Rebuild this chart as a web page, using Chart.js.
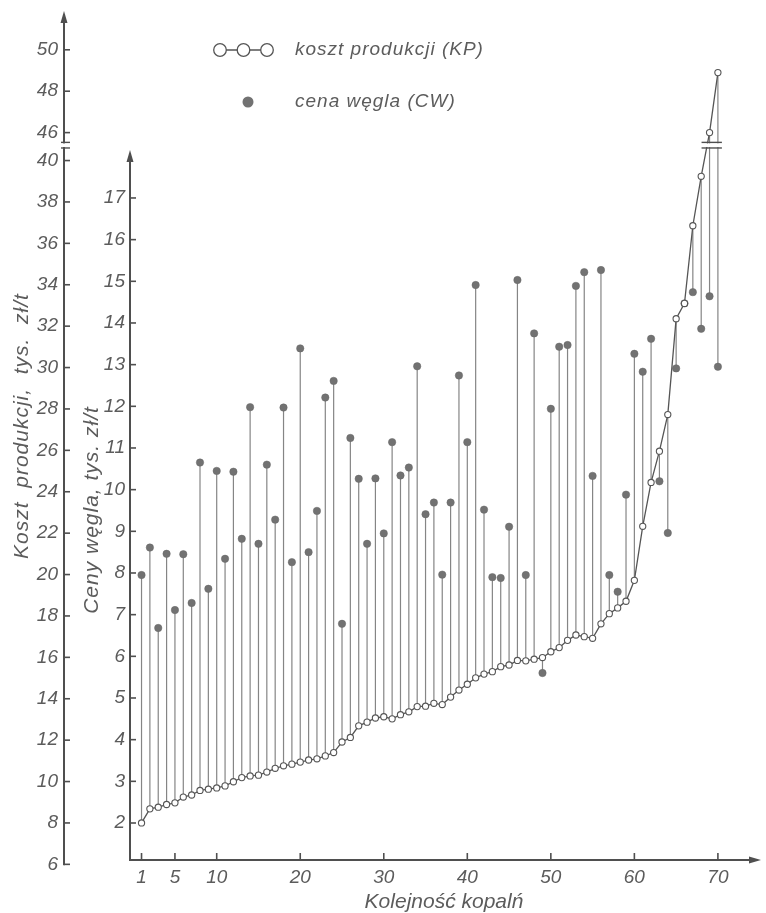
<!DOCTYPE html>
<html><head><meta charset="utf-8">
<script src="https://cdn.jsdelivr.net/npm/chart.js@4/dist/chart.umd.min.js"></script>
<style>html,body{margin:0;padding:0;background:#fff}#wrap{width:766px;height:913px;position:relative}</style>
</head><body><div id="wrap"><canvas id="c" width="766" height="913"></canvas></div>
<script>
// ---- data ----
const mines = [1,2,3,4,5,6,7,8,9,10,11,12,13,14,15,16,17,18,19,20,21,22,23,24,25,26,27,28,29,30,
  31,32,33,34,35,36,37,38,39,40,41,42,43,44,45,46,47,48,49,50,51,52,53,54,55,56,57,58,59,60,
  61,62,63,64,65,66,67,68,69,70];
// koszt produkcji (KP), tys. zł/t  (outer axis)
const costKP = [8.00, 8.68, 8.76, 8.89, 8.97, 9.25, 9.35, 9.57, 9.63, 9.69,
  9.79, 9.99, 10.19, 10.27, 10.31, 10.46, 10.64, 10.76, 10.84, 10.94,
  11.04, 11.10, 11.24, 11.40, 11.91, 12.13, 12.69, 12.87, 13.07, 13.13,
  13.03, 13.23, 13.37, 13.62, 13.64, 13.78, 13.72, 14.08, 14.42, 14.70,
  15.01, 15.19, 15.31, 15.55, 15.63, 15.85, 15.83, 15.91, 15.99, 16.27,
  16.47, 16.82, 17.08, 17.00, 16.92, 17.62, 18.11, 18.39, 18.71, 19.72,
  22.33, 24.45, 25.96, 27.73, 32.36, 33.10, 36.85, 39.24, 46.0, 48.9];
// cena węgla (CW), tys. zł/t  (inner axis)
const priceCW = [7.95, 8.61, 6.68, 8.46, 7.11, 8.45, 7.28, 10.65, 7.62, 10.45,
  8.34, 10.43, 8.82, 11.98, 8.70, 10.60, 9.28, 11.97, 8.26, 13.39,
  8.50, 9.49, 12.21, 12.61, 6.78, 11.24, 10.26, 8.70, 10.27, 8.95,
  11.14, 10.34, 10.53, 12.96, 9.41, 9.69, 7.96, 9.69, 12.74, 11.14,
  14.91, 9.52, 7.90, 7.88, 9.11, 15.03, 7.95, 13.75, 5.60, 11.94,
  13.43, 13.47, 14.89, 15.22, 10.33, 15.27, 7.95, 7.55, 9.88, 13.26,
  12.83, 13.62, 10.20, 8.96, 12.91, 14.47, 14.74, 13.86, 14.64, 12.95];
const xTicks = [1,5,10,20,30,40,50,60,70];
const priceTicks = [2,3,4,5,6,7,8,9,10,11,12,13,14,15,16,17];
const costTicks = [6,8,10,12,14,16,18,20,22,24,26,28,30,32,34,36,38,40,46,48,50];
const breakLow = 40, breakHigh = 46;

// ---- style ----
const FF = '"Liberation Sans", Arial, sans-serif';
const TXT = '#5c5c5c', AX = '#4f4f4f', LINE = '#555555', DROP = '#858585', DOT = '#727272';

// axis with a break between 40 and 46
const GAP_V = 1.35; // compressed height of the break, in axis units
class BrokenLinearScale extends Chart.LinearScale {
  _toLinear(v) {
    if (v <= breakLow) return v;
    if (v >= breakHigh) return v - (breakHigh - breakLow) + GAP_V;
    return breakLow + (v - breakLow) * GAP_V / (breakHigh - breakLow);
  }
  getPixelForValue(value) {
    if (value === null || value === undefined) return NaN;
    return super.getPixelForValue(this._toLinear(value));
  }
}
BrokenLinearScale.id = 'brokenLinear';
BrokenLinearScale.defaults = {};
Chart.register(BrokenLinearScale);

function line(ctx, x1, y1, x2, y2) { ctx.beginPath(); ctx.moveTo(x1, y1); ctx.lineTo(x2, y2); ctx.stroke(); }
function arrowUp(ctx, x, tip) { ctx.beginPath(); ctx.moveTo(x, tip); ctx.lineTo(x - 3.5, tip + 12); ctx.lineTo(x + 3.5, tip + 12); ctx.closePath(); ctx.fill(); }
function arrowRight(ctx, tip, y) { ctx.beginPath(); ctx.moveTo(tip, y); ctx.lineTo(tip - 12, y - 3.5); ctx.lineTo(tip - 12, y + 3.5); ctx.closePath(); ctx.fill(); }
function vText(ctx, t, x, y) { ctx.save(); ctx.translate(x, y); ctx.rotate(-Math.PI / 2); ctx.textAlign = 'center'; ctx.textBaseline = 'middle'; ctx.fillText(t, 0, 0); ctx.restore(); }

const decor = {
  id: 'decor',
  beforeDatasetsDraw(chart) {
    const ctx = chart.ctx, xs = chart.scales.x, yp = chart.scales.y, yc = chart.scales.yc;
    const area = chart.chartArea;
    ctx.save();
    // drop lines from price dot to cost circle
    ctx.strokeStyle = DROP; ctx.lineWidth = 1.2;
    mines.forEach((m, i) => {
      const px = xs.getPixelForValue(m);
      line(ctx, px, yp.getPixelForValue(priceCW[i]), px, yc.getPixelForValue(costKP[i]));
    });
    // axes
    ctx.strokeStyle = AX; ctx.fillStyle = AX; ctx.lineWidth = 2;
    const ox = yc.right, ix = yp.right, by = area.bottom;
    // outer (cost) axis
    line(ctx, ox, yc.getPixelForValue(6) + 1, ox, 20);
    arrowUp(ctx, ox, 11);
    ctx.lineWidth = 1.6;
    costTicks.forEach(v => { const y = yc.getPixelForValue(v); line(ctx, ox, y, ox + 6, y); });
    // inner (price) axis
    ctx.lineWidth = 2;
    line(ctx, ix, by + 1, ix, yp.getPixelForValue(17.9));
    arrowUp(ctx, ix, yp.getPixelForValue(18.15));
    ctx.lineWidth = 1.6;
    priceTicks.forEach(v => { const y = yp.getPixelForValue(v); line(ctx, ix, y, ix + 6, y); });
    // x axis
    ctx.lineWidth = 2;
    line(ctx, ix - 1, by, area.right - 6, by);
    arrowRight(ctx, area.right + 3, by);
    ctx.lineWidth = 1.6;
    xTicks.forEach(v => { const x = xs.getPixelForValue(v); line(ctx, x, by, x, by - 7); });
    ctx.restore();
  },
  afterDraw(chart) {
    const ctx = chart.ctx, xs = chart.scales.x, yc = chart.scales.yc;
    ctx.save();
    // axis break marks (just below the 46 tick)
    const yb1 = yc.getPixelForValue(42.7), yb2 = yc.getPixelForValue(43.9);
    const ox = yc.right;
    ctx.fillStyle = '#fff';
    ctx.fillRect(ox - 2, yb2 + 1, 4, yb1 - yb2 - 2);
    const xa = xs.getPixelForValue(69) - 8, xb = xs.getPixelForValue(70) + 4;
    ctx.fillRect(xa, yb2 + 1, xb - xa, yb1 - yb2 - 2);
    ctx.strokeStyle = AX; ctx.lineWidth = 1.4;
    line(ctx, ox - 3, yb1, ox + 6, yb1); line(ctx, ox - 3, yb2, ox + 6, yb2);
    line(ctx, xa, yb1, xb, yb1); line(ctx, xa, yb2, xb, yb2);
    // axis titles
    ctx.fillStyle = TXT;
    ctx.font = 'italic 21px ' + FF;
    ctx.letterSpacing = '1px';
    vText(ctx, 'Koszt  produkcji,  tys.  zł/t', 22, 426);
    vText(ctx, 'Ceny węgla, tys. zł/t', 92, 510);
    // legend
    ctx.font = 'italic 19px ' + FF;
    ctx.textAlign = 'left'; ctx.textBaseline = 'middle';
    ctx.strokeStyle = LINE; ctx.lineWidth = 1.3;
    line(ctx, 220, 50, 267, 50);
    [220, 243.5, 267].forEach(cx => { ctx.beginPath(); ctx.arc(cx, 50, 6.3, 0, Math.PI * 2); ctx.fillStyle = '#fff'; ctx.fill(); ctx.stroke(); });
    ctx.fillStyle = DOT; ctx.beginPath(); ctx.arc(248, 102, 5.5, 0, Math.PI * 2); ctx.fill();
    ctx.fillStyle = TXT;
    ctx.fillText('koszt produkcji (KP)', 295, 50);
    ctx.fillText('cena węgla (CW)', 295, 102);
    ctx.letterSpacing = '0px';
    ctx.restore();
  }
};

const tickFont = { family: FF, size: 19, style: 'italic' };
new Chart(document.getElementById('c'), {
  type: 'scatter',
  data: {
    datasets: [
      { type: 'line', label: 'koszt produkcji (KP)', data: mines.map((m, i) => ({ x: m, y: costKP[i] })),
        xAxisID: 'x', yAxisID: 'yc', borderColor: LINE, borderWidth: 1.3, tension: 0,
        pointRadius: 3.1, pointBackgroundColor: '#fff', pointBorderColor: LINE, pointBorderWidth: 1.1,
        clip: false, order: 0 },
      { type: 'scatter', label: 'cena węgla (CW)', data: mines.map((m, i) => ({ x: m, y: priceCW[i] })),
        xAxisID: 'x', yAxisID: 'y', pointRadius: 3.7, pointBackgroundColor: DOT, pointBorderColor: '#666',
        pointBorderWidth: 0.5, showLine: false, clip: false, order: 1 }
    ]
  },
  options: {
    responsive: false, animation: false, devicePixelRatio: 1,
    layout: { padding: { left: 0, right: 8, top: 20, bottom: 0 } },
    plugins: { legend: { display: false }, tooltip: { enabled: false } },
    scales: {
      x: { type: 'linear', position: 'bottom', min: -0.38, max: 74.8,
        grid: { display: false, drawTicks: false }, border: { display: false },
        afterBuildTicks: s => { s.ticks = xTicks.map(v => ({ value: v })); },
        afterFit: s => { s.height = 53; },
        ticks: { autoSkip: false, maxRotation: 0, padding: 6, color: TXT, font: tickFont, callback: v => String(v) },
        title: { display: true, text: 'Kolejność kopalń', color: TXT, padding: { top: 0, bottom: 0 },
          font: { family: FF, size: 21, style: 'italic', lineHeight: 1 } } },
      y: { type: 'linear', position: 'left', weight: 0, min: 1.112, max: 21.271,
        grid: { display: false, drawTicks: false }, border: { display: false },
        afterBuildTicks: s => { s.ticks = priceTicks.map(v => ({ value: v })); },
        afterFit: s => { s.width = 66; },
        ticks: { autoSkip: false, padding: 5, color: TXT, font: tickFont, callback: v => String(v) } },
      yc: { type: 'brokenLinear', position: 'left', weight: 1, min: 6.21, max: 46.79,
        grid: { display: false, drawTicks: false }, border: { display: false },
        afterBuildTicks: s => { s.ticks = costTicks.map(v => ({ value: v })); },
        afterFit: s => { s.width = 64; },
        ticks: { autoSkip: false, padding: 6, color: TXT, font: tickFont, callback: v => String(v) } }
    }
  },
  plugins: [decor]
});
</script></body></html>
